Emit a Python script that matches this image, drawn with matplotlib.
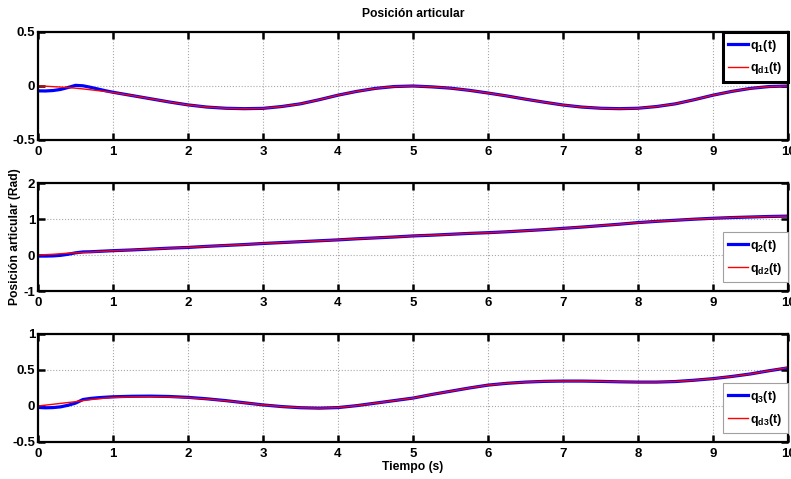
import numpy as np
import matplotlib.pyplot as plt

plt.rcParams['font.family'] = ['Liberation Sans', 'DejaVu Sans']
plt.rcParams['font.weight'] = 'bold'
plt.rcParams['mathtext.fontset'] = 'custom'
plt.rcParams['mathtext.bf'] = 'Liberation Sans:bold'
plt.rcParams['mathtext.rm'] = 'Liberation Sans:bold'
plt.rcParams['mathtext.it'] = 'Liberation Sans:bold'
plt.rcParams['mathtext.default'] = 'bf'

# time grid (s)
t = [0, 0.1, 0.2, 0.3, 0.4, 0.5, 0.6, 0.7, 0.8, 0.9, 1.0,
     1.25, 1.5, 1.75, 2, 2.25, 2.5, 2.75, 3, 3.25, 3.5, 3.75, 4, 4.25, 4.5, 4.75, 5,
     5.25, 5.5, 5.75, 6, 6.25, 6.5, 6.75, 7, 7.25, 7.5, 7.75, 8, 8.25, 8.5, 8.75, 9,
     9.25, 9.5, 9.75, 10]

q1d = [0, -0.002, -0.006, -0.01, -0.015, -0.02, -0.027, -0.035, -0.043, -0.051, -0.06,
       -0.088, -0.118, -0.148, -0.175, -0.195, -0.206, -0.21, -0.207, -0.19, -0.165, -0.127,
       -0.085, -0.05, -0.022, -0.005, 0,
       -0.008, -0.02, -0.04, -0.065, -0.092, -0.122, -0.15, -0.176, -0.195, -0.206, -0.21,
       -0.206, -0.19, -0.165, -0.127, -0.085, -0.05, -0.022, -0.005, 0]
q1 = [-0.045, -0.046, -0.042, -0.032, -0.014, 0.006, 0.002, -0.012, -0.028, -0.044, -0.058,
      -0.088, -0.118, -0.148, -0.175, -0.195, -0.206, -0.21, -0.207, -0.19, -0.165, -0.127,
      -0.085, -0.05, -0.022, -0.005, 0,
      -0.008, -0.02, -0.04, -0.065, -0.092, -0.122, -0.15, -0.176, -0.195, -0.206, -0.21,
      -0.206, -0.19, -0.165, -0.127, -0.085, -0.05, -0.022, -0.005, 0]

q2d = [0, 0.01, 0.02, 0.035, 0.05, 0.06, 0.07, 0.08, 0.095, 0.105, 0.12,
       0.14, 0.165, 0.19, 0.21, 0.24, 0.265, 0.29, 0.32, 0.345, 0.37, 0.395, 0.42, 0.45,
       0.475, 0.5, 0.53, 0.55, 0.575, 0.6, 0.62, 0.645, 0.675, 0.705, 0.74, 0.775, 0.815,
       0.855, 0.9, 0.935, 0.965, 0.995, 1.02, 1.04, 1.055, 1.07, 1.08]
q2 = [-0.03, -0.03, -0.025, -0.01, 0.02, 0.06, 0.085, 0.09, 0.1, 0.11, 0.12,
      0.14, 0.165, 0.19, 0.21, 0.24, 0.265, 0.29, 0.32, 0.345, 0.37, 0.395, 0.42, 0.45,
      0.475, 0.5, 0.53, 0.55, 0.575, 0.6, 0.62, 0.645, 0.675, 0.705, 0.74, 0.775, 0.815,
      0.855, 0.9, 0.935, 0.965, 0.995, 1.02, 1.04, 1.055, 1.07, 1.08]

q3d = [0, 0.012, 0.024, 0.036, 0.048, 0.06, 0.075, 0.088, 0.1, 0.11, 0.118,
       0.127, 0.13, 0.126, 0.115, 0.097, 0.073, 0.045, 0.015, -0.008, -0.024, -0.03, -0.022,
       0.005, 0.04, 0.075, 0.11, 0.16, 0.205, 0.25, 0.29, 0.315, 0.332, 0.342, 0.346, 0.346,
       0.342, 0.336, 0.332, 0.332, 0.34, 0.358, 0.38, 0.41, 0.445, 0.49, 0.535]
q3 = [-0.02, -0.025, -0.022, -0.012, 0.01, 0.04, 0.09, 0.105, 0.115, 0.122, 0.128,
      0.135, 0.137, 0.132, 0.12, 0.1, 0.075, 0.045, 0.015, -0.008, -0.024, -0.03, -0.022,
      0.005, 0.04, 0.075, 0.11, 0.16, 0.205, 0.25, 0.29, 0.315, 0.332, 0.342, 0.346, 0.346,
      0.342, 0.336, 0.332, 0.332, 0.34, 0.358, 0.38, 0.41, 0.445, 0.49, 0.53]

series = [(q1, q1d, '1', (-0.5, 0.5), [-0.5, 0, 0.5], ['-0.5', '0', '0.5']),
          (q2, q2d, '2', (-1, 2), [-1, 0, 1, 2], ['-1', '0', '1', '2']),
          (q3, q3d, '3', (-0.5, 1), [-0.5, 0, 0.5, 1], ['-0.5', '0', '0.5', '1'])]

W, H = 791, 479
fig = plt.figure(figsize=(W / 100, H / 100), dpi=100)
tops = [32, 183, 334]
axes = []
for i, (q, qd, k, ylim, yt, ytl) in enumerate(series):
    ax = fig.add_axes([38 / W, 1 - (tops[i] + 108) / H, 750 / W, 108 / H])
    ax.plot(t, q, color='#0000ff', lw=2.3, label=r'$q_{%s}(t)$' % k)
    ax.plot(t, qd, color='#ff0000', lw=1.0, label=r'$q_{d%s}(t)$' % k)
    ax.set_xlim(0, 10)
    ax.set_ylim(*ylim)
    ax.set_xticks(range(11))
    ax.set_xticklabels([str(v) for v in range(11)])
    ax.set_yticks(yt)
    ax.set_yticklabels(ytl)
    ax.grid(True, color='#a8a8a8', ls=':', lw=0.8)
    ax.tick_params(direction='in', length=5, width=1.8, labelsize=9.5,
                   top=True, right=True)
    ax.tick_params(axis='x', pad=4)
    ax.tick_params(axis='y', pad=2)
    for s in ax.spines.values():
        s.set_linewidth(1.6)
    axes.append(ax)

leg = axes[0].legend(loc='upper right', fontsize=9, handlelength=1.6, handletextpad=0.15,
                     borderaxespad=0, fancybox=False, framealpha=1, borderpad=0.45,
                     labelspacing=0.55)
leg.get_frame().set_edgecolor('black')
leg.get_frame().set_linewidth(2.2)
for ax in axes[1:]:
    leg = ax.legend(loc='lower right', bbox_to_anchor=(1, 0.08), fontsize=9,
                    handlelength=1.6, handletextpad=0.15, borderaxespad=0, fancybox=False,
                    framealpha=1, borderpad=0.45, labelspacing=0.55)
    leg.get_frame().set_edgecolor('#a0a0a0')
    leg.get_frame().set_linewidth(0.8)

fig.text(413 / W, 1 - 14 / H, 'Posición articular', ha='center', va='center',
         fontsize=8.7, fontweight='bold')
fig.text(15 / W, 1 - 237 / H, 'Posición articular (Rad)', ha='center', va='center',
         rotation=90, fontsize=8.7, fontweight='bold')
fig.text(413 / W, 1 - 467 / H, 'Tiempo (s)', ha='center', va='center',
         fontsize=8.7, fontweight='bold')

fig.savefig('out.png', dpi=100)
